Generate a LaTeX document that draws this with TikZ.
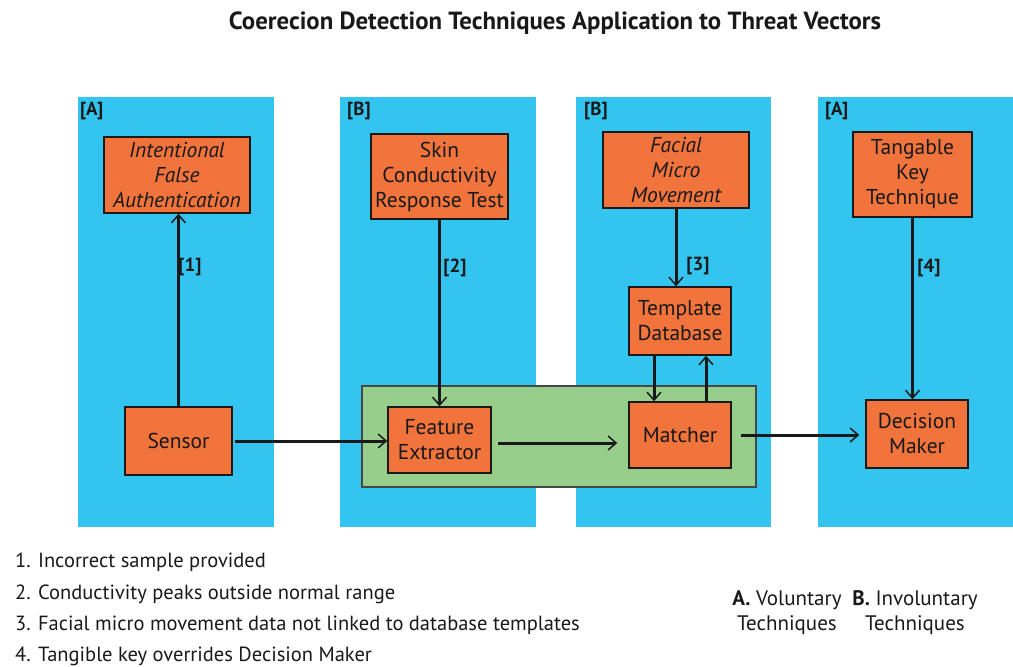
\documentclass[tikz,border=0pt]{standalone}
\usepackage{fontspec}
\setmainfont{PT Sans}
\usetikzlibrary{arrows.meta,calc}
\definecolor{panelblue}{RGB}{52,196,240}
\definecolor{boxorange}{RGB}{240,116,60}
\definecolor{groupgreen}{RGB}{152,206,140}
\definecolor{ink}{RGB}{25,25,25}
\tikzset{
  panel/.style={fill=panelblue, draw=none},
  block/.style={draw=ink, line width=1.5pt, fill=boxorange, inner sep=0pt,
    align=center, text=ink, font=\fontsize{21.5}{25}\selectfont},
  tag/.style={text=ink, font=\fontsize{19}{22}\selectfont\bfseries, inner sep=0pt},
  note/.style={text=ink, anchor=west, inner sep=0pt, font=\fontsize{20.5}{24}\selectfont},
  arr/.style={draw=ink, line width=3pt,
    -{Straight Barb[length=8pt,width=14pt,line width=1.5pt]}},
}
\begin{document}
\begin{tikzpicture}[x=1pt,y=-1pt]
\useasboundingbox (0,0) rectangle (1013,667);
\fill[white] (0,0) rectangle (1013,667);

% title
\node[text=ink, font=\fontsize{24.8}{28}\selectfont\bfseries] (title) at (555,23)
  {Coerecion Detection Techniques Application to Threat Vectors};

% technique panels
\fill[panel] (78,97) rectangle (274,527);
\fill[panel] (340,97) rectangle (536,527);
\fill[panel] (576,97) rectangle (771,527);
\fill[panel] (818,97) rectangle (1013,527);

\node[tag, anchor=west] (pa1) at (80,111) {[A]};
\node[tag, anchor=west] (pb1) at (347,111) {[B]};
\node[tag, anchor=west] (pb2) at (584,111) {[B]};
\node[tag, anchor=west] (pa2) at (825,111) {[A]};

% processing group
\draw[draw=ink!80, line width=1.2pt, fill=groupgreen] (362,386) rectangle (756,487);

% technique boxes
\node[block, minimum width=146pt, minimum height=76pt] (ifa) at (177,175)
  {\itshape Intentional\\\itshape False\\\itshape Authentication};
\node[block, minimum width=137pt, minimum height=85pt] (scrt) at (439.5,176.5)
  {Skin\\Conductivity\\Response Test};
\node[block, minimum width=146pt, minimum height=76pt] (fmm) at (676,170)
  {\itshape Facial\\\itshape Micro\\\itshape Movement};
\node[block, minimum width=119pt, minimum height=85pt] (tkt) at (912.5,174.5)
  {Tangable\\Key\\Technique};

% pipeline boxes
\node[block, minimum width=107pt, minimum height=68pt] (sensor) at (178.5,441) {Sensor};
\node[block, minimum width=103pt, minimum height=66pt] (fe) at (439.5,440) {Feature\\Extractor};
\node[block, minimum width=102pt, minimum height=66pt] (matcher) at (680,435) {Matcher};
\node[block, minimum width=102pt, minimum height=68pt] (td) at (680,321) {Template\\Database};
\node[block, minimum width=102pt, minimum height=68pt] (dm) at (917,434) {Decision\\Maker};

% threat vector arrows
\draw[arr] (sensor.north) -- (sensor.north |- ifa.south);
\draw[arr] (scrt.south) -- (scrt.south |- fe.north);
\draw[arr] (fmm.south) -- (fmm.south |- td.north);
\draw[arr] (tkt.south) -- (tkt.south |- dm.north);

\node[tag] (l1) at (190,267) {[1]};
\node[tag] (l2) at (455,268) {[2]};
\node[tag] (l3) at (698,266) {[3]};
\node[tag] (l4) at (929,268) {[4]};

% data flow
\draw[arr, shorten <=2pt] (sensor.east) -- (sensor.east -| fe.west);
\draw[arr, shorten <=6pt, shorten >=11pt] ([yshift=-3pt]fe.east) -- ([yshift=-3pt]fe.east -| matcher.west);
\draw[arr, shorten <=9pt, shorten >=6pt] (matcher.east) -- (matcher.east -| dm.west);
\draw[arr] ([xshift=-26pt]td.south) -- ([xshift=-26pt]matcher.north);
\draw[arr] ([xshift=26pt]matcher.north) -- ([xshift=26pt]td.south);

% notes
\node[note] (n1) at (15,562) {1. Incorrect sample provided};
\node[note] (n2) at (15,594) {2. Conductivity peaks outside normal range};
\node[note] (n3) at (15,625) {3. Facial micro movement data not linked to database templates};
\node[note] (n4) at (15,656) {4. Tangible key overrides Decision Maker};

% legend
\node[text=ink, align=center, inner sep=0pt, font=\fontsize{21}{25}\selectfont] (ka) at (787,613)
  {\textbf{A.} Voluntary\\Techniques};
\node[text=ink, align=center, inner sep=0pt, font=\fontsize{21}{25}\selectfont] (kb) at (915,613)
  {\textbf{B.} Involuntary\\Techniques};
\end{tikzpicture}
\end{document}
